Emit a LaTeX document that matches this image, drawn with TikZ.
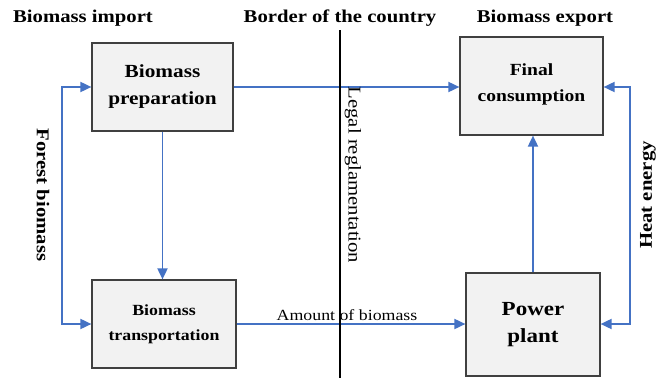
\documentclass[tikz,border=0pt]{standalone}
\usepackage{fontspec}
\setmainfont[FakeStretch=1.15]{Liberation Serif}
\usetikzlibrary{arrows.meta}
\definecolor{flow}{RGB}{68,114,196}
\definecolor{boxfill}{RGB}{242,242,242}
\definecolor{boxline}{RGB}{64,64,64}
\begin{document}
\begin{tikzpicture}[x=1pt,y=-1pt,
  blk/.style={draw=boxline,line width=1.2pt,fill=boxfill,align=center,inner sep=0pt,font=\bfseries},
  flowline/.style={draw=flow,line width=1.8pt},
  flowarrow/.style={flowline,-{Triangle[length=11pt,width=10pt]}},
  title/.style={font=\fontsize{18}{20}\selectfont\bfseries,inner sep=0pt},
  side/.style={font=\fontsize{18}{20}\selectfont\bfseries,inner sep=0pt}]
\useasboundingbox (0,0) rectangle (657,378);
% boxes
\node[blk,minimum width=141pt,minimum height=88pt,font=\fontsize{18.5}{27}\selectfont\bfseries] (prep) at (162.5,87) {Biomass\\preparation};
\node[blk,minimum width=144pt,minimum height=88pt,font=\fontsize{15.5}{25}\selectfont\bfseries] (trans) at (164,324) {Biomass\\transportation};
\node[blk,minimum width=143pt,minimum height=98pt,font=\fontsize{17}{26}\selectfont\bfseries] (final) at (531.5,86) {Final\\consumption\rule[-6pt]{0pt}{1pt}};
\node[blk,minimum width=134pt,minimum height=103pt,font=\fontsize{20}{27}\selectfont\bfseries] (power) at (533,324.5) {Power\\plant};
% titles
\node[title] (t1) at (83,18) {Biomass import};
\node[title] (t2) at (340,18) {Border of the country};
\node[title] (t3) at (545,18) {Biomass export};
% connectors
\coordinate (lmid) at (62,205);
\coordinate (rmid) at (630,205);
\draw[flowarrow] (lmid) |- (prep.west |- 0,87);
\draw[flowarrow] (lmid) |- (trans.west);
\draw[flowarrow] (rmid) |- (final.east |- 0,87);
\draw[flowarrow] (rmid) |- (power.east |- trans.east);
\draw[flowarrow] (prep.east |- 0,87) -- (final.west |- 0,87);
\draw[flowarrow] (prep.south) -- (prep.south |- trans.north);
\draw[flowarrow] (trans.east) -- (power.west |- trans.east);
\draw[flowarrow] (power.north) -- (power.north |- final.south);
% border line
\coordinate (btop) at (340,30);
\coordinate (bbot) at (340,378);
\draw[line width=1.8pt] (btop) -- (bbot);
% labels
\node[font=\fontsize{15.5}{18}\selectfont,inner sep=0pt] (amt) at (347,315) {Amount of biomass};
\node[font=\fontsize{18}{20}\selectfont,rotate=-90,inner sep=0pt] (legal) at (353,175) {Legal reglamentation};
\node[side,rotate=-90] (forest) at (43,195) {Forest biomass};
\node[side,rotate=90] (heat) at (648,195) {Heat energy};
\end{tikzpicture}
\end{document}
